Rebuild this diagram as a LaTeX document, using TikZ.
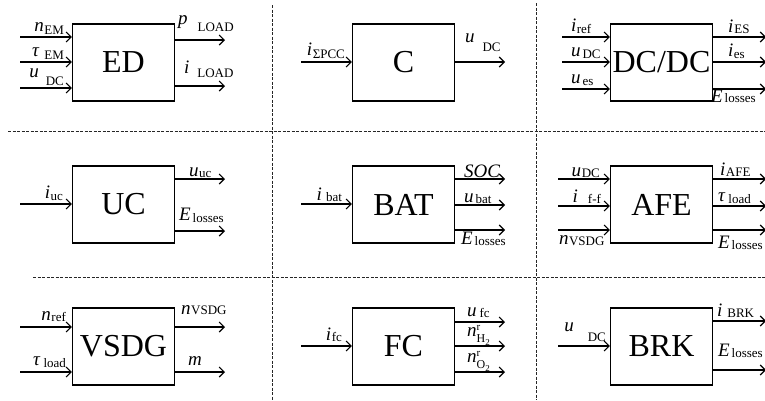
\documentclass[tikz,border=0pt]{standalone}
\usepackage{fontspec}
\setmainfont{Liberation Serif}
\usetikzlibrary{arrows.meta}
\newcommand\lbg[4]{\textit{#1}\hspace{#2}\raisebox{-#3}{\fontsize{13}{13}\selectfont #4}}
\newcommand\nr[1]{\textit{n}\rlap{\raisebox{6.5pt}{\fontsize{11}{11}\selectfont r}}\raisebox{-6pt}{\fontsize{12}{12}\selectfont #1\raisebox{-2.5pt}{\fontsize{9}{9}\selectfont 2}}}
\newcommand\inarr[3]{\coordinate (#1) at #3; \draw[arr] (#1) -- (#1 -| #2.west);}
\newcommand\outarr[3]{\coordinate (#1) at #3; \draw[arr] (#1 -| #2.east) -- (#1);}
\tikzset{
 blk/.style={draw, line width=1.2pt, minimum width=102pt, minimum height=77pt, inner sep=0pt, font=\fontsize{32}{32}\selectfont},
 arr/.style={line width=1.1pt, -{Straight Barb[length=5pt,width=10pt]}},
 sepline/.style={line width=0.9pt, dash pattern=on 3pt off 1.5pt, black!85},
 lbl/.style={inner sep=0.8pt, font=\fontsize{19}{19}\selectfont},
}
\begin{document}
\begin{tikzpicture}[x=1pt,y=-1pt]
\useasboundingbox (0,0) rectangle (765,400);
% separators
\coordinate (h1l) at (8,131); \coordinate (h1r) at (765,131);
\coordinate (h2l) at (33,277); \coordinate (h2r) at (765,277);
\coordinate (v1t) at (272,5); \coordinate (v1b) at (272,400);
\coordinate (v2t) at (536,3); \coordinate (v2b) at (536,400);
\draw[sepline] (h1l) -- (h1r);
\draw[sepline] (h2l) -- (h2r);
\draw[sepline] (v1t) -- (v1b);
\draw[sepline] (v2t) -- (v2b);
% blocks
\node[blk] (ed) at (123.5,62.5) {ED};
\node[blk] (c) at (403.5,62.5) {C};
\node[blk] (dcdc) at (661.5,62.5) {DC/DC};
\node[blk] (uc) at (123.5,204.5) {UC};
\node[blk] (bat) at (403.5,204.5) {BAT};
\node[blk] (afe) at (661.5,204.5) {AFE};
\node[blk] (vsdg) at (123.5,346.5) {VSDG};
\node[blk] (fc) at (403.5,346.5) {FC};
\node[blk] (brk) at (661.5,346.5) {BRK};
% ED
\inarr{edi1}{ed}{(20,37)} \inarr{edi2}{ed}{(20,62)} \inarr{edi3}{ed}{(20,88)}
\outarr{edo1}{ed}{(225,40)} \outarr{edo2}{ed}{(225,86)}
\node[lbl,anchor=south east,xshift=-7pt,yshift=1.5pt] at (edi1 -| ed.west) {\lbg{n}{0.6pt}{3.5pt}{EM}};
\node[lbl,anchor=south east,xshift=-7pt,yshift=1.5pt] at (edi2 -| ed.west) {\lbg{τ}{5pt}{3pt}{EM}};
\node[lbl,anchor=south east,xshift=-7pt,yshift=1.5pt] at (edi3 -| ed.west) {\lbg{u}{7pt}{8pt}{DC}};
\node[lbl,anchor=south west,xshift=2pt,yshift=7pt] at (edo1 -| ed.east) {\lbg{p}{10pt}{7pt}{LOAD}};
\node[lbl,anchor=south west,xshift=8pt,yshift=7pt] at (edo2 -| ed.east) {\lbg{i}{8pt}{4pt}{LOAD}};
% C
\inarr{ci1}{c}{(301,62)}
\outarr{co1}{c}{(505,62)}
\node[lbl,anchor=south east,xshift=-6pt,yshift=2pt] at (ci1 -| c.west) {\lbg{i}{0.6pt}{3pt}{ΣPCC}};
\node[lbl,anchor=south west,xshift=9pt,yshift=9pt] at (co1 -| c.east) {\lbg{u}{8pt}{9pt}{DC}};
% DC/DC
\inarr{dci1}{dcdc}{(562,37)} \inarr{dci2}{dcdc}{(562,62)} \inarr{dci3}{dcdc}{(562,89)}
\outarr{dco1}{dcdc}{(766,37)} \outarr{dco2}{dcdc}{(766,62)} \outarr{dco3}{dcdc}{(766,89)}
\node[lbl,anchor=south west,xshift=8pt,yshift=2pt] at (dci1) {\lbg{i}{0.6pt}{2pt}{ref}};
\node[lbl,anchor=south west,xshift=8pt,yshift=2pt] at (dci2) {\lbg{u}{2pt}{2pt}{DC}};
\node[lbl,anchor=south west,xshift=8pt,yshift=2pt] at (dci3) {\lbg{u}{2pt}{2pt}{es}};
\node[lbl,anchor=south west,xshift=14pt,yshift=2.5pt] at (dco1 -| dcdc.east) {\lbg{i}{1pt}{1pt}{ES}};
\node[lbl,anchor=south west,xshift=14pt,yshift=2pt] at (dco2 -| dcdc.east) {\lbg{i}{0.5pt}{2pt}{es}};
\node[lbl,anchor=north west,xshift=-3pt,yshift=-0.5pt] at (dco3 -| dcdc.east) {\lbg{E}{2pt}{0pt}{losses}};
% UC
\inarr{uci1}{uc}{(20,204)}
\outarr{uco1}{uc}{(225,179)} \outarr{uco2}{uc}{(225,231)}
\node[lbl,anchor=south east,xshift=-8pt,yshift=2pt] at (uci1 -| uc.west) {\lbg{i}{0.6pt}{2pt}{uc}};
\node[lbl,anchor=south west,xshift=13pt,yshift=0.5pt] at (uco1 -| uc.east) {\lbg{u}{0.6pt}{1pt}{uc}};
\node[lbl,anchor=south west,xshift=3pt,yshift=7pt] at (uco2 -| uc.east) {\lbg{E}{2pt}{2pt}{losses}};
% BAT
\inarr{bati1}{bat}{(301,204)}
\outarr{bato1}{bat}{(505,179)} \outarr{bato2}{bat}{(505,205)} \outarr{bato3}{bat}{(505,230)}
\node[lbl,anchor=south east,xshift=-9pt,yshift=1.5pt] at (bati1 -| bat.west) {\lbg{i}{4pt}{1pt}{bat}};
\node[lbl,anchor=south west,xshift=8pt,yshift=0.5pt] at (bato1 -| bat.east) {\textit{SOC}};
\node[lbl,anchor=south west,xshift=8pt,yshift=0.5pt] at (bato2 -| bat.east) {\lbg{u}{2pt}{1pt}{bat}};
\node[lbl,anchor=north west,xshift=5pt,yshift=-1pt] at (bato3 -| bat.east) {\lbg{E}{2pt}{1pt}{losses}};
% AFE
\inarr{afei1}{afe}{(558,179)} \inarr{afei2}{afe}{(558,206)} \inarr{afei3}{afe}{(558,230)}
\outarr{afeo1}{afe}{(766,179)} \outarr{afeo2}{afe}{(766,206)} \outarr{afeo3}{afe}{(766,230)}
\node[lbl,anchor=south east,xshift=-9pt,yshift=0.5pt] at (afei1 -| afe.west) {\lbg{u}{0.6pt}{1pt}{DC}};
\node[lbl,anchor=south east,xshift=-8pt,yshift=2pt] at (afei2 -| afe.west) {\lbg{i}{10pt}{1pt}{f-f}};
\node[lbl,anchor=north west,yshift=-5pt] at (afei3) {\lbg{n}{0.6pt}{1pt}{VSDG}};
\node[lbl,anchor=south west,xshift=6pt,yshift=1.5pt] at (afeo1 -| afe.east) {\lbg{i}{0.6pt}{1pt}{AFE}};
\node[lbl,anchor=south west,xshift=4pt,yshift=1.5pt] at (afeo2 -| afe.east) {\lbg{τ}{3pt}{2pt}{load}};
\node[lbl,anchor=north west,xshift=4pt,yshift=-5pt] at (afeo3 -| afe.east) {\lbg{E}{2pt}{1pt}{losses}};
% VSDG
\inarr{vsi1}{vsdg}{(20,327)} \inarr{vsi2}{vsdg}{(20,372)}
\outarr{vso1}{vsdg}{(225,327)} \outarr{vso2}{vsdg}{(225,372)}
\node[lbl,anchor=south east,xshift=-5pt,yshift=4pt] at (vsi1 -| vsdg.west) {\lbg{n}{0.6pt}{1pt}{ref}};
\node[lbl,anchor=south east,xshift=-5pt,yshift=3pt] at (vsi2 -| vsdg.west) {\lbg{τ}{3pt}{2pt}{load}};
\node[lbl,anchor=south west,xshift=5pt,yshift=11pt] at (vso1 -| vsdg.east) {\lbg{n}{0.6pt}{0pt}{VSDG}};
\node[lbl,anchor=south west,xshift=12pt,yshift=6pt] at (vso2 -| vsdg.east) {\textit{m}};
% FC
\inarr{fci1}{fc}{(301,346)}
\outarr{fco1}{fc}{(505,322)} \outarr{fco2}{fc}{(505,346)} \outarr{fco3}{fc}{(505,372)}
\node[lbl,anchor=south east,xshift=-9pt,yshift=3pt] at (fci1 -| fc.west) {\lbg{i}{0.6pt}{1pt}{fc}};
\node[lbl,anchor=south west,xshift=11pt,yshift=3pt] at (fco1 -| fc.east) {\lbg{u}{3pt}{1pt}{fc}};
\node[lbl,anchor=south west,xshift=11pt,yshift=0pt] at (fco2 -| fc.east) {\nr{H}};
\node[lbl,anchor=south west,xshift=11pt,yshift=0pt] at (fco3 -| fc.east) {\nr{O}};
% BRK
\inarr{brki1}{brk}{(558,346)}
\outarr{brko1}{brk}{(766,321)} \outarr{brko2}{brk}{(766,370)}
\node[lbl,anchor=south east,xshift=-3pt,yshift=3pt] at (brki1 -| brk.west) {\lbg{u}{14pt}{10pt}{DC}};
\node[lbl,anchor=south west,xshift=3pt,yshift=2pt] at (brko1 -| brk.east) {\lbg{i}{5pt}{1pt}{BRK}};
\node[lbl,anchor=south west,xshift=4pt,yshift=11pt] at (brko2 -| brk.east) {\lbg{E}{2pt}{1pt}{losses}};
\end{tikzpicture}
\end{document}
